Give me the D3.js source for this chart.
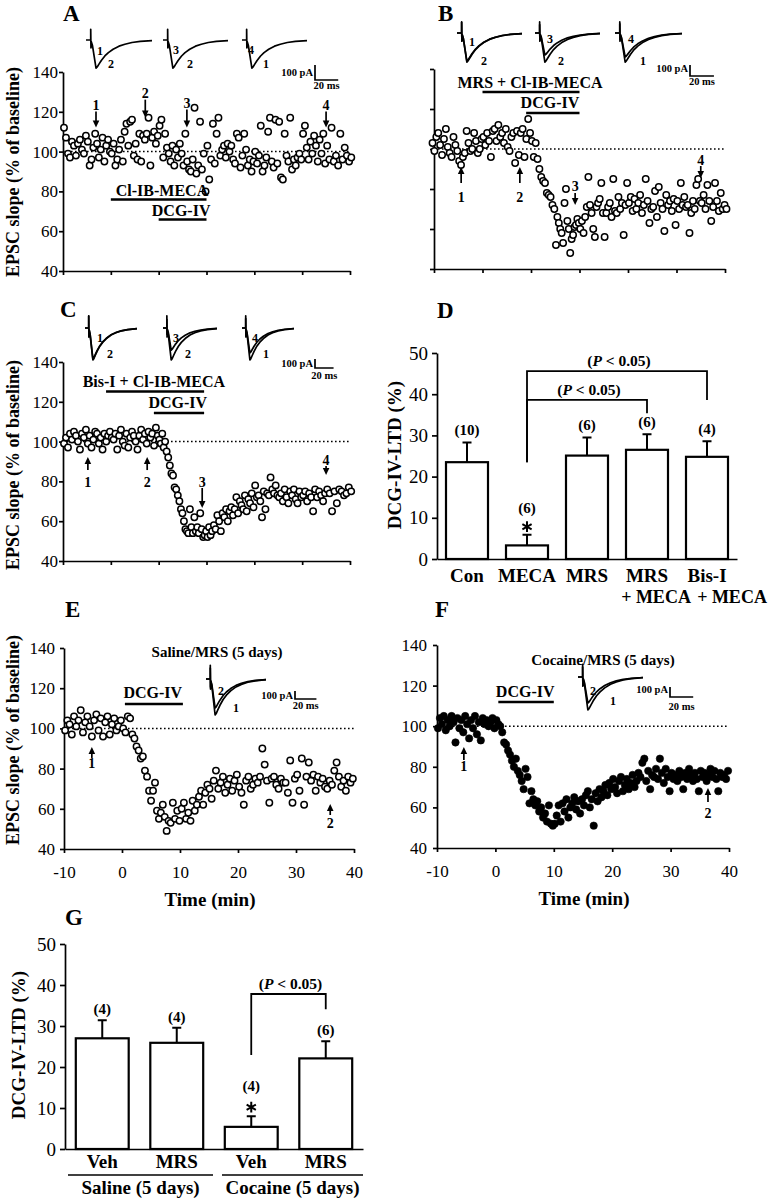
<!DOCTYPE html>
<html>
<head>
<meta charset="utf-8">
<script src="https://cdn.jsdelivr.net/npm/d3@7/dist/d3.min.js"></script>
<style>
  html,body{margin:0;padding:0;background:#fff;}
  svg{display:block;}
  text{font-family:"Liberation Serif","Times New Roman",Times,serif;fill:#000;}
</style>
</head>
<body>
<svg id="fig" width="770" height="1199" viewBox="0 0 770 1199"></svg>
<script>
// ================= DATA =================
const epscTicks = [40, 60, 80, 100, 120, 140];
const timeTicksABC = [-10, 0, 10, 20, 30, 40, 50];
const timeTicksEF = [-10, 0, 10, 20, 30, 40];
const ltdTicks = [0, 10, 20, 30, 40, 50];

// time-course data: [segment start (min), segment end (min), EPSC slope values (% of baseline)]
const aSegments = [
  [-10, -5, [112,107,99,97,105,103,98,104,106,101,99,108]],
  [-5, 0, [105,93,96,102,109,104,97,101,107,95,103,106,100]],
  [0, 5, [99,104,93,96,101,106,95,110,114,103,115,116,98]],
  [5, 10, [104,96,109,95,108,106,109,117,93,107,110,104,108]],
  [10, 15, [113,116,97,109,102,99,95,103,93,101,97,104,99]],
  [15, 20, [93,109,95,91,90,96,122,89,93,115,91,99,80]],
  [20, 25, [103,86,96,114,94,109,117,98,101,103,97,104,100]],
  [25, 30, [103,96,94,109,107,92,98,109,101,93,96,90,95]],
  [30, 35, [100,94,98,113,90,93,97,110,117,95,92,116,94]],
  [35, 40, [115,87,86,109,98,95,117,91,96,93,97,99,96]],
  [40, 45, [109,113,102,96,105,99,108,103,95,106,99,109,94]],
  [45, 50.5, [103,96,112,95,98,93,109,96,102,98,95,97]]
];
const bSegments = [
  [-10.5, -5, [103,99,106,108,102,97,105,110,101,98,96,106,102,99]],
  [-5, 0, [94,92,96,98,109,103,99,100,108,104,98,100,105]],
  [0, 5, [106,102,108,104,96,109,110,104,112,106,108,103,110]],
  [5, 10, [101,99,106,108,93,109,97,108,110,96,105,115,108]],
  [10, 15, [104,96,103,95,90,86,84,83,78,77,76,72,70]],
  [15, 20, [52,66,63,60,58,53,73,80,64,60,48,55,57,61,62,65,63]],
  [20, 25, [60,64,58,66,71,86,72,68,60,56,71,73,75,83,68]],
  [25, 30, [56,68,71,73,66,85,69,68,76,70,73,57,72,83]],
  [30, 35, [73,76,69,75,70,73,77,68,72,85,74,63,70]],
  [35, 40, [71,79,66,81,73,70,59,77,72,74,69,75,62]],
  [40, 45, [74,70,83,72,76,71,72,58,68,74,70,82,85,74]],
  [45, 50.5, [73,77,70,82,74,64,71,83,74,69,78,70,72,70]]
];
const cSegments = [
  [-10, -5, [99,102,97,104,101,105,103,100,96,104,102,106]],
  [-5, 0, [99,103,97,101,105,104,99,102,96,104,100,103,105]],
  [0, 5, [102,101,104,96,103,106,100,98,104,97,102,105,103]],
  [5, 10, [100,96,103,106,101,104,99,105,102,104,98,107,103]],
  [10, 11.5, [101,99,104,97,100]],
  [11.5, 14.5, [95,92,88,84,83,77,76,73,70]],
  [14.5, 17, [66,64,60,56,55,54,66,57]],
  [17, 21, [54,62,55,57,54,64,56,52,53,55,52,57,53]],
  [21, 25, [55,58,56,63,60,55,64,62,66,60,65]],
  [25, 30, [67,63,66,72,64,70,68,66,73,65,71,69,74,67]],
  [30, 35, [78,72,73,70,62,75,66,74,73,82,76,74,78,73]],
  [35, 40, [72,74,70,76,72,69,75,73,76,71,69,75,72]],
  [40, 45, [73,75,70,74,72,65,76,72,75,73,70,74]],
  [45, 50.5, [76,74,65,75,69,76,75,73,74,77,75]]
];
const eSegments = [
  [-10, -5, [99,104,102,97,106,101,104,109,98,103,106,101,96]],
  [-5, 0, [104,107,99,105,96,103,106,97,102,105,99,101,104]],
  [0, 1.6, [100,98,106,105]],
  [1.6, 4.5, [97,95,91,89,85,86,79,76]],
  [4.5, 6.2, [69,64,69,73,59]],
  [6.2, 8.2, [55,58,62,56,49,54]],
  [8.2, 12, [53,63,55,59,54,60,63,55,58,54]],
  [12, 16, [64,59,62,66,69,62,68,72,70,65,74]],
  [16, 20, [79,70,73,76,68,72,75,69,74,77]],
  [20, 24, [71,68,62,74,76,70,72,75,73,76]],
  [24, 28, [90,82,74,63,75,76,72,70,75,73]],
  [28, 32, [73,68,84,63,75,77,69,85,62,76]],
  [32, 36, [83,74,77,69,76,73,75,71,70,74]],
  [36, 40, [72,79,83,76,71,74,69,76,73,75]]
];
const fSegments = [
  [-10, -7, [99,104,101,105,98,103,100,105,102]],
  [-7, -4, [92,104,99,103,97,105,101,94,103]],
  [-4, -1, [99,105,96,102,93,104,101,103,100]],
  [-1, 1, [102,104,99,103,101,100]],
  [1, 4, [97,92,91,88,86,83,80,84,78]],
  [4, 7, [76,73,69,79,75,62,68,64,61]],
  [7, 10, [63,58,60,55,57,53,61,52,51]],
  [10, 13, [52,56,61,53,62,58,64,55,60]],
  [13, 16, [62,65,59,63,57,64,61,66,68]],
  [16, 19, [60,64,51,67,63,69,65,68,71]],
  [19, 22, [66,72,69,74,70,67,73,75,68]],
  [22, 25, [71,74,69,72,76,70,73,77,75]],
  [25, 28, [82,84,73,78,69,76,75,79,74]],
  [28, 31, [84,77,72,79,75,68,77,74,76]],
  [31, 34, [73,78,75,69,77,74,79,76,73]],
  [34, 37, [77,74,68,78,75,77,73,76,79]],
  [37, 40, [75,78,74,68,77,75,76,74,78]]
];

// drug applications: [label, start (min), end (min), label centre (min)]
const aDrugs = [["Cl-IB-MECA", 0, 20, 10.7], ["DCG-IV", 10, 20, 14.7]];
const bDrugs = [["MRS + Cl-IB-MECA", 0, 20, 9.8], ["DCG-IV", 9, 20, 13.9]];
const cDrugs = [["Bis-I + Cl-IB-MECA", -1, 19.5, 9.0], ["DCG-IV", 9, 19.5, 14.0]];
const eDrugs = [["DCG-IV", 0.5, 10.5, 5.3]];
const fDrugs = [["DCG-IV", 0.5, 10, 5.1]];

// sampling arrows: [label, time (min), tip value, tail value, label baseline value]
const aArrows = [["1", -3.1, 112.1, 120.1, 121.1], ["2", 7.2, 117.1, 126.1, 127.1], ["3", 15.9, 112.1, 121.1, 122.1], ["4", 45, 112.1, 120.1, 121.1]];
const bArrows = [["1", -4.4, 91, 83, 73.5], ["2", 7.7, 91, 83, 73.5], ["3", 19.1, 72, 78, 79], ["4", 45, 85.5, 91.5, 92]];
const cArrows = [["1", -4.8, 92.3, 85.7, 77.2], ["2", 7.6, 92.3, 85.7, 77.2], ["3", 19.1, 66.6, 76.7, 77.2], ["4", 45, 83.2, 87.7, 88.2]];
const eArrows = [["1", -5.2, 90.7, 85.3, 80.3], ["2", 35.9, 62.4, 56.9, 50.4]];
const fArrows = [["1", -5.4, 89.8, 83.4, 77.9], ["2", 36.4, 69.6, 62.7, 54.8]];

// EPSC trace template: [time (ms), fraction of peak current]
const traceTemplate = [[-4,0],[0,0],[0,0.38],[0.2,-0.28],[0.5,-0.06],[1.5,-0.2],[3,-0.6],[4.5,-1],[5.5,-0.96],[7,-0.86],[9,-0.73],[12,-0.57],[15,-0.45],[19,-0.33],[24,-0.22],[29,-0.15],[35,-0.09],[42,-0.05],[52,-0.02]];
// peak amplitudes (pA) of the superimposed traces in each inset
const aTracePeaks = [[187], [187], [187]];
const bTracePeaks = [[255, 264], [200, 264], [218, 264]];
const cTracePeaks = [[345, 355], [245, 355], [278, 355]];
const eTracePeaks = [[362, 450]];
const fTracePeaks = [[260, 330]];
const aTraceLabels = [["1", "2"], ["3", "2"], ["4", "1"]];
const bTraceLabels = [["1", "2"], ["3", "2"], ["4", "1"]];
const cTraceLabels = [["1", "2"], ["3", "2"], ["4", "1"]];
const eTraceLabels = [["2", "1"]];
const fTraceLabels = [["2", "1"]];

// panel D
const dCategories = ["Con", "MECA", "MRS", "MRS", "Bis-I"];
const dSubLabels = ["", "", "", "+ MECA", "+ MECA"];
const dValues = [23.5, 3.3, 25.1, 26.5, 24.8];
const dErrors = [4.8, 2.6, 4.4, 3.8, 3.8];
const dN = ["(10)", "(6)", "(6)", "(6)", "(4)"];
const dStar = [false, true, false, false, false];
// brackets: [from index, to index, start value, top value, end value]
const dBrackets = [[1, 3, 23.5, 38.6, 35.4], [1, 4, 23.5, 45.6, 38.6]];

// panel G
const gCategories = ["Veh", "MRS", "Veh", "MRS"];
const gGroups = ["Saline (5 days)", "Cocaine (5 days)"];
const gValues = [27.0, 25.9, 5.4, 22.1];
const gErrors = [4.4, 3.7, 2.6, 4.2];
const gN = ["(4)", "(4)", "(4)", "(6)"];
const gStar = [false, false, true, false];
const gBrackets = [[2, 3, 22.9, 37.8, 34.1]];

// ================= DRAWING =================
const FONT = '"Liberation Serif","Times New Roman",Times,serif';
const svg = d3.select("#fig");

function txt(g, x, y, s, size, opt = {}) {
  const t = g.append("text").attr("x", x).attr("y", y).text(s)
    .attr("font-size", size).attr("font-weight", opt.weight || "bold")
    .attr("text-anchor", opt.anchor || "start");
  if (opt.rotate) t.attr("transform", `rotate(-90,${x},${y})`);
  return t;
}
function pText(g, x, y, size) {
  const t = g.append("text").attr("x", x).attr("y", y).attr("font-size", size)
    .attr("font-weight", "bold").attr("text-anchor", "middle");
  t.append("tspan").text("(");
  t.append("tspan").attr("font-style", "italic").text("P");
  t.append("tspan").text(" < 0.05)");
}
function styleAxis(sel, size) {
  sel.attr("font-family", FONT).attr("font-size", size);
  sel.select(".domain").attr("stroke-width", 1.7);
  sel.selectAll(".tick line").attr("stroke-width", 1.7);
}
function flatten(segs) {
  const pts = [];
  segs.forEach(([t0, t1, vals]) => {
    const dt = (t1 - t0) / vals.length;
    vals.forEach((v, i) => pts.push([t0 + (i + 0.5) * dt, v]));
  });
  return pts;
}
function arrow(g, x, yTip, yTail) {
  const dir = yTail > yTip ? 1 : -1; // 1 = points up
  const head = 7, hw = 3.3;
  g.append("line").attr("x1", x).attr("x2", x).attr("y1", yTail).attr("y2", yTip + dir * head * 0.8)
    .attr("stroke", "#000").attr("stroke-width", 1.7);
  g.append("path").attr("d", `M${x},${yTip} L${x - hw},${yTip + dir * head} L${x + hw},${yTip + dir * head} Z`)
    .attr("fill", "#000");
}

function inset(g, spec, peaks, labels) {
  const xms = d3.scaleLinear().domain([-4, 52]).range([spec.x0, spec.x1]);
  const ypA = d3.scaleLinear().domain([0, -100]).range([spec.yBase, spec.yBase + spec.px100]);
  peaks.forEach(pk => {
    const line = d3.line().x(d => xms(d[0])).y(d => ypA(d[1] * pk));
    g.append("path").attr("d", line(traceTemplate)).attr("fill", "none")
      .attr("stroke", "#000").attr("stroke-width", 1.7).attr("stroke-linejoin", "round");
  });
  txt(g, spec.x0 + spec.l1[0], spec.l1[1], labels[0], 12);
  txt(g, spec.x0 + spec.l2[0], spec.l2[1], labels[1], 12);
  return { xms, ypA };
}
function scaleBar(g, sb, sc) {
  const w = sc.xms(20) - sc.xms(0);
  const h = sc.ypA(-100) - sc.ypA(0);
  g.append("path").attr("d", `M${sb.x},${sb.y - h} V${sb.y} H${sb.x + w}`)
    .attr("fill", "none").attr("stroke", "#000").attr("stroke-width", 1.7);
  txt(g, sb.x - 2, sb.ty1, "100 pA", 10.5, { anchor: "end" });
  txt(g, sb.x + w / 2, sb.ty2, "20 ms", 10.5, { anchor: "middle" });
}

function timeCourse(p) {
  const g = svg.append("g");
  const x = d3.scaleLinear().domain(p.xDomain).range(p.xRange);
  const y = d3.scaleLinear().domain([40, 140]).range(p.yRange);
  g.append("line").attr("x1", p.xRange[0]).attr("x2", p.xRange[1])
    .attr("y1", y(100)).attr("y2", y(100))
    .attr("stroke", "#000").attr("stroke-width", 1.5).attr("stroke-dasharray", "1.6,2.4");
  const ay = d3.axisLeft(y).tickValues(epscTicks).tickSize(4).tickSizeOuter(0)
    .tickPadding(p.yPad).tickFormat(p.yLabels ? d => String(d) : () => "");
  g.append("g").attr("transform", `translate(${p.xRange[0]},0)`).call(ay).call(styleAxis, 17);
  const ax = d3.axisBottom(x).tickValues(p.xTicks).tickSize(4).tickSizeOuter(0)
    .tickPadding(13).tickFormat(p.xLabels ? d => String(d) : () => "");
  g.append("g").attr("transform", `translate(0,${p.yRange[0]})`).call(ax).call(styleAxis, 17);

  g.append("g").selectAll("circle").data(flatten(p.segments)).join("circle")
    .attr("cx", d => x(d[0])).attr("cy", d => y(d[1]))
    .attr("r", p.filled ? 3.7 : 3.2)
    .attr("fill", p.filled ? "#000" : "#fff").attr("stroke", "#000")
    .attr("stroke-width", p.filled ? 0.6 : 1.5);

  p.drugs.forEach((d, i) => {
    g.append("line").attr("x1", x(d[1])).attr("x2", x(d[2]))
      .attr("y1", p.drugBarY[i]).attr("y2", p.drugBarY[i])
      .attr("stroke", "#000").attr("stroke-width", 2.6);
    txt(g, x(d[3]), p.drugTextY[i], d[0], 16, { anchor: "middle" });
  });
  p.arrows.forEach(a => {
    arrow(g, x(a[1]), y(a[2]), y(a[3]));
    txt(g, x(a[1]), y(a[4]), a[0], 14, { anchor: "middle" });
  });
  p.insets.forEach((sp, i) => {
    const sc = inset(g, sp, p.peaks[i], p.traceLabels[i]);
    if (i === p.insets.length - 1) scaleBar(g, p.scaleBar, sc);
  });
  if (p.title) txt(g, p.title[0], p.title[1], p.title[2], 15, { anchor: "middle" });
  if (p.yTitle) txt(g, p.yTitle[0], p.yTitle[1], "EPSC slope (% of baseline)", 18, { anchor: "middle", rotate: true });
  if (p.xLabels) txt(g, (p.xRange[0] + p.xRange[1]) / 2 + 1, p.xTitleY, "Time (min)", 19, { anchor: "middle" });
  txt(g, p.letter[1], p.letter[2], p.letter[0], 23);
}

// Panel A
timeCourse({
  segments: aSegments, xDomain: [-10, 50], xRange: [63, 350], yRange: [271, 72],
  xTicks: timeTicksABC, xLabels: false, yLabels: true, yPad: 1,
  drugs: aDrugs, drugBarY: [199.5, 219.5], drugTextY: [196, 216],
  arrows: aArrows,
  insets: [
    { x0: 86, x1: 152, yBase: 40, px100: 15, l1: [11, 55], l2: [22, 68] },
    { x0: 163, x1: 228, yBase: 40, px100: 15, l1: [10, 54], l2: [24, 68] },
    { x0: 242, x1: 307, yBase: 40, px100: 15, l1: [6, 54], l2: [21, 68] }
  ],
  peaks: aTracePeaks, traceLabels: aTraceLabels,
  scaleBar: { x: 315, y: 80, ty1: 76, ty2: 89 },
  yTitle: [19, 172], letter: ["A", 63, 21]
});
// Panel B
timeCourse({
  segments: bSegments, xDomain: [-10, 50], xRange: [434, 725], yRange: [269, 69],
  xTicks: timeTicksABC, xLabels: false, yLabels: false, yPad: 1,
  drugs: bDrugs, drugBarY: [92, 113], drugTextY: [88, 108],
  arrows: bArrows,
  insets: [
    { x0: 457, x1: 522, yBase: 33, px100: 11, l1: [12, 46], l2: [24, 65] },
    { x0: 535, x1: 600, yBase: 33, px100: 11, l1: [12, 43], l2: [23, 65] },
    { x0: 615, x1: 682, yBase: 33, px100: 11, l1: [13, 43], l2: [25, 65] }
  ],
  peaks: bTracePeaks, traceLabels: bTraceLabels,
  scaleBar: { x: 690, y: 76, ty1: 72, ty2: 85 },
  letter: ["B", 438, 21]
});
// Panel C
timeCourse({
  segments: cSegments, xDomain: [-10, 50], xRange: [63, 350], yRange: [561, 362],
  xTicks: timeTicksABC, xLabels: false, yLabels: true, yPad: 1,
  drugs: cDrugs, drugBarY: [391.5, 413], drugTextY: [387, 408],
  arrows: cArrows,
  insets: [
    { x0: 85, x1: 137, yBase: 328, px100: 9, l1: [12, 342], l2: [22, 358] },
    { x0: 163, x1: 217, yBase: 328, px100: 9, l1: [10, 342], l2: [22, 358] },
    { x0: 242, x1: 294, yBase: 328, px100: 9, l1: [10, 342], l2: [21, 358] }
  ],
  peaks: cTracePeaks, traceLabels: cTraceLabels,
  scaleBar: { x: 315, y: 368, ty1: 367, ty2: 379 },
  yTitle: [19, 465], letter: ["C", 60, 317]
});
// Panel E
timeCourse({
  segments: eSegments, xDomain: [-10, 40], xRange: [64, 354], yRange: [849, 648],
  xTicks: timeTicksEF, xLabels: true, yLabels: true, yPad: 5,
  drugs: eDrugs, drugBarY: [704], drugTextY: [698],
  arrows: eArrows,
  insets: [{ x0: 206, x1: 266, yBase: 679, px100: 8, l1: [12, 695], l2: [27, 712] }],
  peaks: eTracePeaks, traceLabels: eTraceLabels,
  scaleBar: { x: 295, y: 699, ty1: 699, ty2: 709 },
  title: [217, 657, "Saline/MRS (5 days)"], xTitleY: 906,
  yTitle: [19, 740], letter: ["E", 65, 617]
});
// Panel F
timeCourse({
  segments: fSegments, xDomain: [-10, 40], xRange: [437, 729], yRange: [848, 645],
  xTicks: timeTicksEF, xLabels: true, yLabels: true, yPad: 6, filled: true,
  drugs: fDrugs, drugBarY: [702], drugTextY: [697],
  arrows: fArrows,
  insets: [{ x0: 578, x1: 643, yBase: 677, px100: 10, l1: [12, 695], l2: [32, 705] }],
  peaks: fTracePeaks, traceLabels: fTraceLabels,
  scaleBar: { x: 670, y: 697, ty1: 693, ty2: 710 },
  title: [603, 665, "Cocaine/MRS (5 days)"], xTitleY: 905,
  letter: ["F", 435, 617]
});

// ---------- bar panels ----------
function barPanel(p) {
  const g = svg.append("g");
  const x = d3.scaleBand().domain(d3.range(p.values.length)).range(p.xRange)
    .paddingInner(p.padIn).paddingOuter(p.padOut);
  const y = d3.scaleLinear().domain([0, 50]).range(p.yRange);
  const ay = d3.axisLeft(y).tickValues(ltdTicks).tickSize(5).tickSizeOuter(0).tickPadding(4)
    .tickFormat(d => String(d));
  g.append("g").attr("transform", `translate(${p.xRange[0]},0)`).call(ay).call(styleAxis, 19);
  const ax = d3.axisBottom(x).tickSize(0).tickSizeOuter(0).tickFormat(() => "");
  g.append("g").attr("transform", `translate(0,${p.yRange[0]})`).call(ax).call(styleAxis, 19);
  const cx = i => x(i) + x.bandwidth() / 2;
  p.values.forEach((v, i) => {
    const top = y(v + p.errors[i]);
    g.append("path").attr("d", `M${cx(i)},${y(v)} V${top} M${cx(i) - 4.5},${top} H${cx(i) + 4.5}`)
      .attr("stroke", "#000").attr("stroke-width", 2).attr("fill", "none");
    g.append("rect").attr("x", x(i)).attr("y", y(v)).attr("width", x.bandwidth())
      .attr("height", y(0) - y(v)).attr("fill", "#fff").attr("stroke", "#000").attr("stroke-width", 2.2);
    if (p.star[i]) {
      g.append("path").attr("d", d3.symbol(d3.symbolAsterisk, 80)())
        .attr("transform", `translate(${cx(i)},${top - p.starGap})`)
        .attr("stroke", "#000").attr("stroke-width", 2).attr("fill", "none");
      txt(g, cx(i), top - p.nGapStar, p.n[i], 15, { anchor: "middle" });
    } else {
      txt(g, cx(i), top - p.nGap, p.n[i], 15, { anchor: "middle" });
    }
    txt(g, cx(i), p.catY, p.cats[i], 19, { anchor: "middle" });
    if (p.sub && p.sub[i]) txt(g, cx(i) + p.subDx[i], p.subY, p.sub[i], 18, { anchor: "middle" });
  });
  p.brackets.forEach(b => {
    const x1 = cx(b[0]), x2 = cx(b[1]);
    g.append("path").attr("d", `M${x1},${y(b[2])} V${y(b[3])} H${x2} V${y(b[4])}`)
      .attr("fill", "none").attr("stroke", "#000").attr("stroke-width", 1.8);
    pText(g, (x1 + x2) / 2 + 2, y(b[3]) - 5, 15.5);
  });
  txt(g, p.yTitle[0], p.yTitle[1], "DCG-IV-LTD (%)", 19, { anchor: "middle", rotate: true });
  txt(g, p.letter[1], p.letter[2], p.letter[0], 23);
  return { g, x, cx };
}

barPanel({
  values: dValues, errors: dErrors, n: dN, star: dStar, cats: dCategories, sub: dSubLabels,
  subDx: [0, 0, 0, 9, 25], subY: 603, catY: 582,
  xRange: [437, 737], padIn: 0.3, padOut: 0.15, yRange: [559, 353],
  nGap: 7, nGapStar: 22, starGap: 8, brackets: dBrackets,
  yTitle: [401, 455], letter: ["D", 437, 318]
});

const gp = barPanel({
  values: gValues, errors: gErrors, n: gN, star: gStar, cats: gCategories,
  catY: 1168,
  xRange: [65, 363], padIn: 0.29, padOut: 0.145, yRange: [1149, 944],
  nGap: 6, nGapStar: 25, starGap: 9, brackets: gBrackets,
  yTitle: [25, 1045], letter: ["G", 65, 925]
});
// group underlines and labels for G
[[68, 213], [222, 363]].forEach((r, i) => {
  gp.g.append("line").attr("x1", r[0]).attr("x2", r[1]).attr("y1", 1175).attr("y2", 1175)
    .attr("stroke", "#000").attr("stroke-width", 1.7);
  txt(gp.g, (r[0] + r[1]) / 2, 1194, gGroups[i], 19, { anchor: "middle" });
});
</script>
</body>
</html>
